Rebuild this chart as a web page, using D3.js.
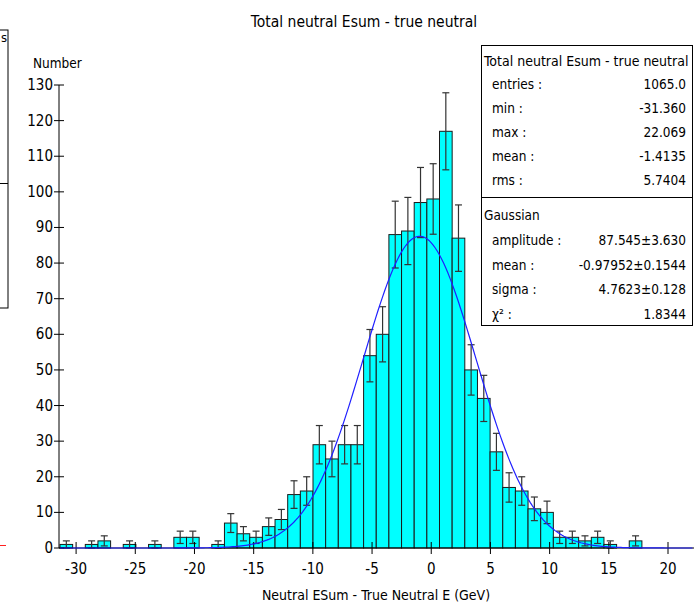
<!DOCTYPE html>
<html>
<head>
<meta charset="utf-8">
<script src="https://cdn.jsdelivr.net/npm/d3@7"></script>
<style>
  body { margin: 0; background: #fff; }
  svg text { font-family: 'Comic Sans MS', 'DejaVu Sans Condensed', 'DejaVu Sans', sans-serif; fill: #000; }
</style>
</head>
<body>
<svg id="chart" width="694" height="605"></svg>
<script>
// histogram: 50 bins between min and max of the sample
var xMin = -31.36;
var xMax = 22.069;
var counts = [1, 0, 1, 2, 0, 1, 0, 1, 0, 3,
              3, 0, 1, 7, 4, 3, 6, 8, 15, 16,
              29, 25, 29, 29, 54, 60, 88, 89, 97, 98,
              117, 87, 50, 42, 27, 17, 16, 11, 10, 3,
              3, 2, 3, 1, 0, 2, 0, 0, 0, 0];
var xTicks = [-30, -25, -20, -15, -10, -5, 0, 5, 10, 15, 20];
var yTicks = [0, 10, 20, 30, 40, 50, 60, 70, 80, 90, 100, 110, 120, 130];

// fit parameters: amplitude, mean, sigma
var gausParams = [87.545, -0.97952, 4.7623];

var statsLabels = ['entries :', 'min :', 'max :', 'mean :', 'rms :'];
var statsValues = ['1065.0', '-31.360', '22.069', '-1.4135', '5.7404'];
var fitLabels = ['amplitude :', 'mean :', 'sigma :', 'χ² :'];
var fitValues = ['87.545±3.630', '-0.97952±0.1544', '4.7623±0.128', '1.8344'];

var svg = d3.select('#chart');

var xScale = d3.scaleLinear().domain([xMin, xMax]).range([60, 692.5]);
var yScale = d3.scaleLinear().domain([0, 130]).range([548, 85]);
var binWidth = (xMax - xMin) / counts.length;

var bins = counts.map(function(c, i) {
    return {lo: xMin + i * binWidth, hi: xMin + (i + 1) * binWidth, n: c};
}).filter(function(d) { return d.n > 0; });

// cut-off neighbour pad on the far left
var leftPad = svg.append('g');
leftPad.append('rect')
    .attr('x', -2).attr('y', 30).attr('width', 10).attr('height', 278)
    .attr('fill', 'none').attr('stroke', '#000');
leftPad.append('line')
    .attr('x1', -2).attr('x2', 8).attr('y1', 183.5).attr('y2', 183.5)
    .attr('stroke', '#000');
leftPad.append('text')
    .attr('x', 1).attr('y', 42)
    .style('font-size', '13px')
    .text('s');
leftPad.append('line')
    .attr('x1', 0).attr('x2', 6).attr('y1', 545.5).attr('y2', 545.5)
    .attr('stroke', '#ff2020');

// title
svg.append('text')
    .attr('x', 364).attr('y', 27)
    .attr('text-anchor', 'middle')
    .style('font-size', '15.5px')
    .text('Total neutral Esum - true neutral');

// bars
svg.append('g').selectAll('rect')
    .data(bins)
    .enter()
    .append('rect')
    .attr('x', function(d) { return xScale(d.lo); })
    .attr('width', function(d) { return xScale(d.hi) - xScale(d.lo); })
    .attr('y', function(d) { return yScale(d.n); })
    .attr('height', function(d) { return yScale(0) - yScale(d.n); })
    .attr('fill', '#00ffff')
    .attr('stroke', '#1a1a1a')
    .attr('stroke-width', 1);

// poisson error bars
var errG = svg.append('g').attr('stroke', '#333').attr('stroke-width', 1.2);
bins.forEach(function(d) {
    var cx = xScale((d.lo + d.hi) / 2);
    var e = Math.sqrt(d.n);
    var yTop = yScale(d.n + e), yBot = yScale(Math.max(d.n - e, 0));
    errG.append('line').attr('x1', cx).attr('x2', cx).attr('y1', yTop).attr('y2', yBot);
    errG.append('line').attr('x1', cx - 3.5).attr('x2', cx + 3.5).attr('y1', yTop).attr('y2', yTop);
    errG.append('line').attr('x1', cx - 3.5).attr('x2', cx + 3.5).attr('y1', yBot).attr('y2', yBot);
});

// axes
var axG = svg.append('g').attr('stroke', '#000').attr('stroke-width', 1);
axG.append('line')
    .attr('x1', 59).attr('x2', 59)
    .attr('y1', yScale(130)).attr('y2', yScale(0));
axG.append('line')
    .attr('x1', 59).attr('x2', 694)
    .attr('y1', yScale(0)).attr('y2', yScale(0));

axG.selectAll('.xtick')
    .data(xTicks)
    .enter()
    .append('line')
    .attr('x1', function(d) { return xScale(d); })
    .attr('x2', function(d) { return xScale(d); })
    .attr('y1', yScale(0) - 6)
    .attr('y2', yScale(0) + 6);

axG.selectAll('.ytick')
    .data(yTicks)
    .enter()
    .append('line')
    .attr('x1', 54).attr('x2', 64)
    .attr('y1', function(d) { return yScale(d); })
    .attr('y2', function(d) { return yScale(d); });

svg.append('g').selectAll('text')
    .data(xTicks)
    .enter()
    .append('text')
    .attr('x', function(d) { return xScale(d); })
    .attr('y', 574)
    .attr('text-anchor', 'middle')
    .style('font-size', '15px')
    .text(function(d) { return d; });

svg.append('g').selectAll('text')
    .data(yTicks)
    .enter()
    .append('text')
    .attr('x', 53)
    .attr('y', function(d) { return yScale(d) + 5; })
    .attr('text-anchor', 'end')
    .style('font-size', '15px')
    .text(function(d) { return d; });

svg.append('text')
    .attr('x', 33).attr('y', 68)
    .style('font-size', '13.5px')
    .text('Number');

svg.append('text')
    .attr('x', 376).attr('y', 600)
    .attr('text-anchor', 'middle')
    .style('font-size', '14px')
    .text('Neutral ESum - True Neutral E (GeV)');

// gaussian fit curve
var curvePts = d3.range(0, 301).map(function(i) {
    var x = xMin + (xMax - xMin) * i / 300;
    var z = (x - gausParams[1]) / gausParams[2];
    return [x, gausParams[0] * Math.exp(-0.5 * z * z)];
});
svg.append('path')
    .datum(curvePts)
    .attr('d', d3.line()
        .x(function(d) { return xScale(d[0]); })
        .y(function(d) { return yScale(d[1]); }))
    .attr('fill', 'none')
    .attr('stroke', '#1f1fff')
    .attr('stroke-width', 1.2);

// statistics box
var box = svg.append('g');
box.append('rect')
    .attr('x', 481.5).attr('y', 45.5).attr('width', 211).attr('height', 280)
    .attr('fill', '#fff').attr('stroke', '#000');
box.append('line')
    .attr('x1', 481.5).attr('x2', 692.5).attr('y1', 197.5).attr('y2', 197.5)
    .attr('stroke', '#000');

box.append('text')
    .attr('x', 484).attr('y', 66)
    .style('font-size', '14px')
    .text('Total neutral Esum - true neutral');

statsLabels.forEach(function(lab, i) {
    var y = 89 + i * 24;
    box.append('text').attr('x', 492).attr('y', y).style('font-size', '13.5px').text(lab);
    box.append('text').attr('x', 686).attr('y', y).attr('text-anchor', 'end')
        .style('font-size', '13.5px').text(statsValues[i]);
});

box.append('text')
    .attr('x', 484).attr('y', 220)
    .style('font-size', '13.5px')
    .text('Gaussian');

fitLabels.forEach(function(lab, i) {
    var y = 245 + i * 24.5;
    box.append('text').attr('x', 492).attr('y', y).style('font-size', '13.5px').text(lab);
    box.append('text').attr('x', 686).attr('y', y).attr('text-anchor', 'end')
        .style('font-size', '13.5px').text(fitValues[i]);
});
</script>
</body>
</html>
